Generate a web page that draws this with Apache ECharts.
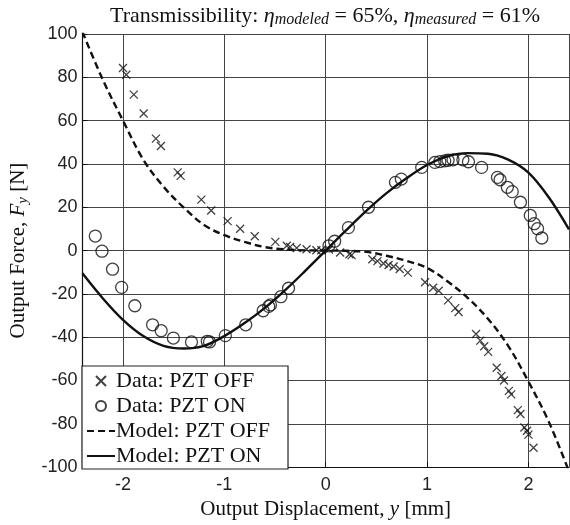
<!DOCTYPE html>
<html>
<head>
<meta charset="utf-8">
<script src="https://cdn.jsdelivr.net/npm/echarts@6/dist/echarts.min.js"></script>
<style>
  html, body { margin: 0; padding: 0; background: #fff; }
  #chart { width: 570px; height: 525px; }
</style>
</head>
<body>
<div id="chart"></div>
<script>
// measured points, PZT off (crosses)
const offDataX = [-2.0, -1.967, -1.893, -1.796, -1.675, -1.626, -1.46, -1.431, -1.227, -1.13, -0.968, -0.844, -0.70,
  -0.497, -0.384, -0.351, -0.286, -0.189, -0.092, -0.043, 0.032, 0.142, 0.234, 0.256, 0.46, 0.51, 0.57, 0.62, 0.67,
  0.73, 0.81, 0.98, 1.06, 1.115, 1.207, 1.278, 1.311, 1.483, 1.525, 1.564, 1.603, 1.687, 1.733, 1.759, 1.807, 1.83,
  1.895, 1.921, 1.96, 1.986, 2.0, 2.05]
const offDataY = [84.3, 81.2, 72, 63.3, 51.7, 48.3, 36.1, 34.5, 23.5, 18.5, 13.6, 10.1, 6.6,
  4.0, 2.2, 1.7, 1.2, 0.6, 0.1, 0.1, 0.5, -0.9, -1.7, -2.1, -4, -4.9, -6, -6.7, -7.4,
  -8.5, -10.2, -14.6, -17.2, -18.6, -23, -26.6, -28.4, -38.5, -41.6, -44.2, -46.8, -54.1, -57.9, -60, -64.8, -66.4,
  -73.7, -75.5, -81.7, -83.2, -85, -91.1]

// measured points, PZT on (circles)
const onDataX = [-2.273, -2.207, -2.103, -2.013, -1.883, -1.708, -1.623, -1.503, -1.324, -1.168, -1.146, -0.99, -0.789,
  -0.617, -0.562, -0.545, -0.442, -0.367, 0.032, 0.088, 0.224, 0.422, 0.688, 0.746, 0.947, 1.077, 1.126, 1.174,
  1.207, 1.256, 1.353, 1.408, 1.538, 1.694, 1.72, 1.792, 1.84, 1.921, 2.018, 2.057, 2.09, 2.132]
const onDataY = [6.7, -0.3, -8.6, -17, -25.5, -34.3, -37, -40.4, -42.2, -41.9, -42.2, -39.3, -34.3,
  -27.8, -25.8, -25.1, -21.3, -17.4, 2.2, 4.3, 10.6, 20, 31.5, 33, 38.4, 40.7, 41.1, 41.4,
  41.7, 41.9, 41.9, 41, 38.4, 33.8, 32.7, 29.2, 27.2, 22.3, 16.2, 12.4, 10.1, 5.8]

// model curves
const modelX = [-2.4, -2.2, -2.0, -1.8, -1.6, -1.4, -1.2, -1.0, -0.8, -0.6, -0.4, -0.2, 0,
  0.2, 0.4, 0.6, 0.8, 1.0, 1.2, 1.4, 1.6, 1.8, 2.0, 2.2, 2.4]
const modelOff = [101, 79, 60, 42, 29.5, 19.8, 11.8, 7.1, 4, 1.6, 0.5, 0.1, 0,
  -0.1, -0.6, -2.4, -4.8, -8, -14.2, -21.8, -31.5, -44, -60.5, -79, -102]
const modelOn = [-10.5, -22, -32, -39.5, -44, -45.2, -44, -39.5, -33.5, -26.5, -18.3, -9.3, 0,
  9.3, 18.3, 26.5, 33.5, 39.5, 43.5, 45, 44.7, 42, 36, 24.6, 9.8]

const yTicks = [-100, -80, -60, -40, -20, 0, 20, 40, 60, 80, 100]

const zip = (xs, ys) => xs.map((x, i) => [x, ys[i]])

const SERIF = 'Liberation Serif'
const SANS = 'Liberation Sans'
const INK = '#111'

// rich text pieces: normal, italic, subscript
const mathRich = (size) => ({
  n: { fontFamily: SERIF, fontWeight: 'normal', fontSize: size, color: INK, lineHeight: 24 },
  i: { fontFamily: SERIF, fontWeight: 'normal', fontStyle: 'italic', fontSize: size, color: INK, lineHeight: 24 },
  s: { fontFamily: SERIF, fontWeight: 'normal', fontStyle: 'italic', fontSize: size - 6, color: INK, lineHeight: 14, verticalAlign: 'bottom', padding: [6, 0, 0, 0] }
})

const chart = echarts.init(document.getElementById('chart'), null, { renderer: 'canvas' })

chart.setOption({
  backgroundColor: '#fff',
  animation: false,
  title: {
    text: '{n|Transmissibility: }{i|η}{s|modeled}{n| = 65%, }{i|η}{s|measured}{n| = 61%}',
    left: 320,
    textAlign: 'center',
    top: -1,
    textStyle: { fontWeight: 'normal', rich: mathRich(22) }
  },
  legend: {
    orient: 'vertical',
    left: 82,
    top: 366,
    backgroundColor: '#fff',
    borderColor: '#222',
    borderWidth: 1.2,
    borderRadius: 0,
    padding: [4, 18, 2, 4],
    itemGap: 3,
    itemWidth: 28,
    itemHeight: 10,
    textStyle: { fontFamily: SERIF, fontSize: 22, lineHeight: 20, color: INK, padding: [0, 0, 0, -4] },
    data: [
      'Data: PZT OFF',
      'Data: PZT ON',
      { name: 'Model: PZT OFF', itemStyle: { opacity: 0 } },
      { name: 'Model: PZT ON', itemStyle: { opacity: 0 } }
    ]
  },
  grid: { left: 77, right: 1, top: 34, bottom: 55 },
  xAxis: {
    type: 'value',
    min: -2.4,
    max: 2.4,
    splitNumber: 5,
    name: '{n|Output Displacement, }{i|y}{n| [mm]}',
    nameLocation: 'middle',
    nameGap: 27,
    nameTextStyle: { rich: mathRich(21) },
    axisLine: { show: true, onZero: false, lineStyle: { color: INK, width: 1.2 } },
    axisTick: { show: true, inside: true, length: 5, lineStyle: { color: INK } },
    axisLabel: {
      margin: 9,
      fontFamily: SANS,
      fontSize: 18,
      color: '#222',
      showMinLabel: false,
      showMaxLabel: false,
      formatter: v => (Number.isInteger(v) ? String(v) : '')
    },
    splitLine: { show: true, lineStyle: { color: '#444', width: 1 } }
  },
  yAxis: {
    type: 'value',
    min: -100,
    max: 100,
    interval: 20,
    name: '{n|Output Force, }{i|F}{s|y}{n| [N]}',
    nameLocation: 'middle',
    nameRotate: 90,
    nameGap: 48,
    nameTextStyle: { rich: mathRich(21) },
    axisLine: { show: true, onZero: false, lineStyle: { color: INK, width: 1.2 } },
    axisTick: { show: true, inside: true, length: 5, lineStyle: { color: INK } },
    axisLabel: {
      margin: 5,
      fontFamily: SANS,
      fontSize: 18,
      color: '#222',
      formatter: v => (yTicks.includes(v) ? String(v) : '')
    },
    splitLine: { show: true, lineStyle: { color: '#444', width: 1 } }
  },
  series: [
    {
      name: 'Data: PZT OFF',
      type: 'scatter',
      data: zip(offDataX, offDataY),
      symbol: 'path://M0,0L10,10M10,0L0,10',
      symbolSize: 8,
      itemStyle: { color: 'none', borderColor: INK, borderWidth: 1.3 },
      z: 3
    },
    {
      name: 'Data: PZT ON',
      type: 'scatter',
      data: zip(onDataX, onDataY),
      symbol: 'circle',
      symbolSize: 12,
      itemStyle: { color: 'none', borderColor: INK, borderWidth: 1.3 },
      z: 3
    },
    {
      name: 'Model: PZT OFF',
      type: 'line',
      data: zip(modelX, modelOff),
      showSymbol: false,
      smooth: 0.35,
      itemStyle: { color: INK },
      lineStyle: { color: INK, width: 2.4, type: [7, 4] },
      z: 2
    },
    {
      name: 'Model: PZT ON',
      type: 'line',
      data: zip(modelX, modelOn),
      showSymbol: false,
      smooth: 0.35,
      itemStyle: { color: INK },
      lineStyle: { color: INK, width: 2.4 },
      z: 2
    }
  ]
})
</script>
</body>
</html>
